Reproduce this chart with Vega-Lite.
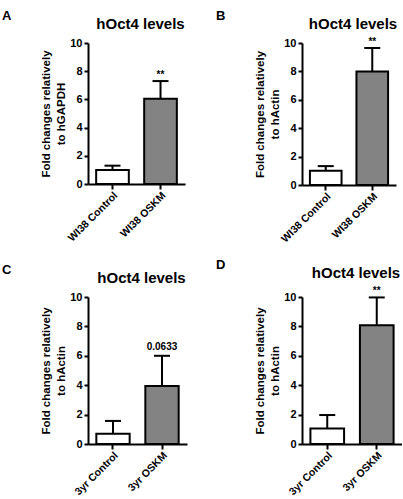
{
  "$schema": "https://vega.github.io/schema/vega-lite/v6.json",
  "padding": {"left": 2, "top": 9, "right": 0, "bottom": 0},
  "config": {
    "font": "Liberation Sans",
    "view": {"stroke": null},
    "title": {"fontSize": 15, "fontWeight": "bold", "color": "black"},
    "axis": {
      "grid": false,
      "domainColor": "black",
      "domainWidth": 2,
      "tickColor": "black",
      "tickWidth": 2,
      "tickSize": 4,
      "labelColor": "black",
      "labelFontWeight": "bold",
      "labelFontSize": 11,
      "titleColor": "black",
      "titleFontWeight": "bold",
      "titleFontSize": 11.5,
      "titleLineHeight": 15
    },
    "axisX": {"tickSize": 5, "labelPadding": 1, "labelAngle": -45, "labelAlign": "right", "labelBaseline": "top", "labelFontSize": 10.5},
    "axisY": {"labelPadding": 2, "titlePadding": 3},
    "bar": {"stroke": "black", "strokeWidth": 2},
    "text": {"fontWeight": "bold", "fontSize": 10, "baseline": "alphabetic"}
  },
  "datasets": {
    "wi38_gapdh": [
      {"group": "WI38 Control", "treatment": "Control", "mean": 1.0, "upper": 1.3, "note": ""},
      {"group": "WI38 OSKM", "treatment": "OSKM", "mean": 6.05, "upper": 7.3, "note": "**"}
    ],
    "wi38_actin": [
      {"group": "WI38 Control", "treatment": "Control", "mean": 1.0, "upper": 1.33, "note": ""},
      {"group": "WI38 OSKM", "treatment": "OSKM", "mean": 8.0, "upper": 9.65, "note": "**"}
    ],
    "yr3_actin_c": [
      {"group": "3yr Control", "treatment": "Control", "mean": 0.7, "upper": 1.57, "note": ""},
      {"group": "3yr OSKM", "treatment": "OSKM", "mean": 3.95, "upper": 6.0, "note": "0.0633"}
    ],
    "yr3_actin_d": [
      {"group": "3yr Control", "treatment": "Control", "mean": 1.05, "upper": 1.97, "note": ""},
      {"group": "3yr OSKM", "treatment": "OSKM", "mean": 8.07, "upper": 9.97, "note": "**"}
    ]
  },
  "columns": 2,
  "spacing": {"column": 29, "row": 14},
  "concat": [
    {
      "title": {"text": "A", "anchor": "start", "frame": "group", "fontSize": 13, "dx": -86, "offset": -6},
      "vconcat": [
        {
          "width": 97,
          "height": 141,
          "title": {"text": "hOct4 levels", "frame": "group", "offset": 5, "dx": 4},
          "data": {"name": "wi38_gapdh"},
          "encoding": {
            "x": {"field": "group", "type": "nominal", "sort": null, "scale": {"paddingInner": 0.32, "paddingOuter": 0.17}, "axis": {"title": null}}
          },
          "layer": [
            {"mark": {"type": "rule", "strokeWidth": 2, "color": "black"},
             "encoding": {
               "y": {"field": "mean", "type": "quantitative", "scale": {"domain": [0, 10]}, "axis": {"values": [0, 2, 4, 6, 8, 10], "title": ["Fold changes relatively", "to hGAPDH"]}},
               "y2": {"field": "upper"}}},
            {"mark": {"type": "tick", "size": 16, "thickness": 2, "color": "black", "opacity": 1},
             "encoding": {"y": {"field": "upper", "type": "quantitative", "axis": {"values": [0, 2, 4, 6, 8, 10], "title": ["Fold changes relatively", "to hGAPDH"]}}}},
            {"mark": {"type": "bar"},
             "encoding": {
               "y": {"field": "mean", "type": "quantitative", "axis": {"values": [0, 2, 4, 6, 8, 10], "title": ["Fold changes relatively", "to hGAPDH"]}},
               "fill": {"field": "treatment", "type": "nominal", "scale": {"domain": ["Control", "OSKM"], "range": ["#ffffff", "#838383"]}, "legend": null}}},
            {"mark": {"type": "text", "dy": -3},
             "encoding": {"y": {"field": "upper", "type": "quantitative", "axis": {"values": [0, 2, 4, 6, 8, 10], "title": ["Fold changes relatively", "to hGAPDH"]}}, "text": {"field": "note"}}}
          ]
        }
      ]
    },
    {
      "title": {"text": "B", "anchor": "start", "frame": "group", "fontSize": 13, "dx": -86, "offset": -6},
      "vconcat": [
        {
          "width": 94,
          "height": 142,
          "title": {"text": "hOct4 levels", "frame": "group", "offset": 5, "dx": 4},
          "data": {"name": "wi38_actin"},
          "encoding": {
            "x": {"field": "group", "type": "nominal", "sort": null, "scale": {"paddingInner": 0.32, "paddingOuter": 0.17}, "axis": {"title": null}}
          },
          "layer": [
            {"mark": {"type": "rule", "strokeWidth": 2, "color": "black"},
             "encoding": {
               "y": {"field": "mean", "type": "quantitative", "scale": {"domain": [0, 10]}, "axis": {"values": [0, 2, 4, 6, 8, 10], "title": ["Fold changes relatively", "to hActin"]}},
               "y2": {"field": "upper"}}},
            {"mark": {"type": "tick", "size": 16, "thickness": 2, "color": "black", "opacity": 1},
             "encoding": {"y": {"field": "upper", "type": "quantitative", "axis": {"values": [0, 2, 4, 6, 8, 10], "title": ["Fold changes relatively", "to hActin"]}}}},
            {"mark": {"type": "bar"},
             "encoding": {
               "y": {"field": "mean", "type": "quantitative", "axis": {"values": [0, 2, 4, 6, 8, 10], "title": ["Fold changes relatively", "to hActin"]}},
               "fill": {"field": "treatment", "type": "nominal", "scale": {"domain": ["Control", "OSKM"], "range": ["#ffffff", "#838383"]}, "legend": null}}},
            {"mark": {"type": "text", "dy": -3},
             "encoding": {"y": {"field": "upper", "type": "quantitative", "axis": {"values": [0, 2, 4, 6, 8, 10], "title": ["Fold changes relatively", "to hActin"]}}, "text": {"field": "note"}}}
          ]
        }
      ]
    },
    {
      "title": {"text": "C", "anchor": "start", "frame": "group", "fontSize": 13, "dx": -86, "offset": -6},
      "vconcat": [
        {
          "width": 99,
          "height": 147,
          "title": {"text": "hOct4 levels", "frame": "group", "offset": 5, "dx": 4},
          "data": {"name": "yr3_actin_c"},
          "encoding": {
            "x": {"field": "group", "type": "nominal", "sort": null, "scale": {"paddingInner": 0.32, "paddingOuter": 0.17}, "axis": {"title": null}}
          },
          "layer": [
            {"mark": {"type": "rule", "strokeWidth": 2, "color": "black"},
             "encoding": {
               "y": {"field": "mean", "type": "quantitative", "scale": {"domain": [0, 10]}, "axis": {"values": [0, 2, 4, 6, 8, 10], "title": ["Fold changes relatively", "to hActin"]}},
               "y2": {"field": "upper"}}},
            {"mark": {"type": "tick", "size": 16, "thickness": 2, "color": "black", "opacity": 1},
             "encoding": {"y": {"field": "upper", "type": "quantitative", "axis": {"values": [0, 2, 4, 6, 8, 10], "title": ["Fold changes relatively", "to hActin"]}}}},
            {"mark": {"type": "bar"},
             "encoding": {
               "y": {"field": "mean", "type": "quantitative", "axis": {"values": [0, 2, 4, 6, 8, 10], "title": ["Fold changes relatively", "to hActin"]}},
               "fill": {"field": "treatment", "type": "nominal", "scale": {"domain": ["Control", "OSKM"], "range": ["#ffffff", "#838383"]}, "legend": null}}},
            {"mark": {"type": "text", "dy": -6},
             "encoding": {"y": {"field": "upper", "type": "quantitative", "axis": {"values": [0, 2, 4, 6, 8, 10], "title": ["Fold changes relatively", "to hActin"]}}, "text": {"field": "note"}}}
          ]
        }
      ]
    },
    {
      "title": {"text": "D", "anchor": "start", "frame": "group", "fontSize": 13, "dx": -86, "offset": -6},
      "vconcat": [
        {
          "width": 100,
          "height": 147,
          "title": {"text": "hOct4 levels", "frame": "group", "offset": 5, "dx": 4},
          "data": {"name": "yr3_actin_d"},
          "encoding": {
            "x": {"field": "group", "type": "nominal", "sort": null, "scale": {"paddingInner": 0.32, "paddingOuter": 0.17}, "axis": {"title": null}}
          },
          "layer": [
            {"mark": {"type": "rule", "strokeWidth": 2, "color": "black"},
             "encoding": {
               "y": {"field": "mean", "type": "quantitative", "scale": {"domain": [0, 10]}, "axis": {"values": [0, 2, 4, 6, 8, 10], "title": ["Fold changes relatively", "to hActin"]}},
               "y2": {"field": "upper"}}},
            {"mark": {"type": "tick", "size": 16, "thickness": 2, "color": "black", "opacity": 1},
             "encoding": {"y": {"field": "upper", "type": "quantitative", "axis": {"values": [0, 2, 4, 6, 8, 10], "title": ["Fold changes relatively", "to hActin"]}}}},
            {"mark": {"type": "bar"},
             "encoding": {
               "y": {"field": "mean", "type": "quantitative", "axis": {"values": [0, 2, 4, 6, 8, 10], "title": ["Fold changes relatively", "to hActin"]}},
               "fill": {"field": "treatment", "type": "nominal", "scale": {"domain": ["Control", "OSKM"], "range": ["#ffffff", "#838383"]}, "legend": null}}},
            {"mark": {"type": "text", "dy": -3},
             "encoding": {"y": {"field": "upper", "type": "quantitative", "axis": {"values": [0, 2, 4, 6, 8, 10], "title": ["Fold changes relatively", "to hActin"]}}, "text": {"field": "note"}}}
          ]
        }
      ]
    }
  ]
}
